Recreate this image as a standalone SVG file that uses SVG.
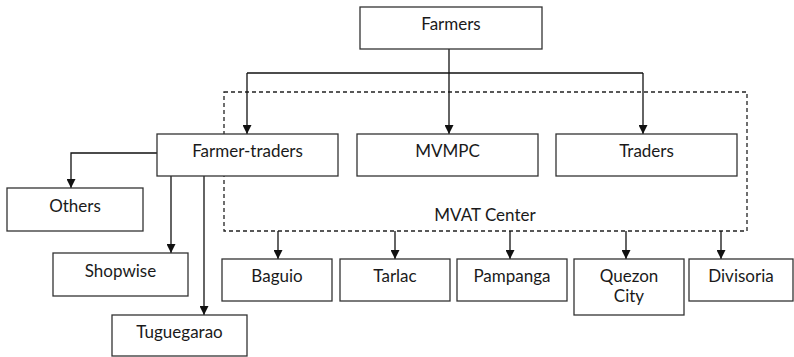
<svg xmlns="http://www.w3.org/2000/svg" width="794" height="357" viewBox="0 0 794 357">
<defs>
<style>
.box{fill:#fff;stroke:#333;stroke-width:1.3}
.t{font-family:Lato,"Open Sans",sans-serif;font-size:17px;fill:#1a1a1a;text-anchor:middle}
.c{fill:none;stroke:#111;stroke-width:1.3}
.d{fill:none;stroke:#222;stroke-width:1.3;stroke-dasharray:4 3}
</style>
<marker id="a" viewBox="0 0 10 10" refX="10" refY="5" markerWidth="9" markerHeight="9" markerUnits="userSpaceOnUse" orient="auto">
<path d="M0,0 L10,5 L0,10 z" fill="#111"/>
</marker>
</defs>
<g id="mvat-center">
<rect class="d" x="224" y="92" width="523" height="139"/>
<text class="t" x="485" y="221">MVAT Center</text>
</g>
<g id="connectors">
<path class="c" d="M449,49 V134" marker-end="url(#a)"/>
<path class="c" d="M247,73 H643" />
<path class="c" d="M247,73 V134" marker-end="url(#a)"/>
<path class="c" d="M643,73 V134" marker-end="url(#a)"/>
<path class="c" d="M157,153 H71 V188" marker-end="url(#a)"/>
<path class="c" d="M171,176 V253" marker-end="url(#a)"/>
<path class="c" d="M204,176 V315" marker-end="url(#a)"/>
<path class="c" d="M278,231 V259" marker-end="url(#a)"/>
<path class="c" d="M395,231 V259" marker-end="url(#a)"/>
<path class="c" d="M510,231 V259" marker-end="url(#a)"/>
<path class="c" d="M626,231 V259" marker-end="url(#a)"/>
<path class="c" d="M721,231 V259" marker-end="url(#a)"/>
</g>
<g id="farmers"><rect class="box" x="360" y="7" width="182" height="42"/><text class="t" x="451" y="30">Farmers</text></g>
<g id="farmer-traders"><rect class="box" x="157" y="134" width="181" height="42"/><text class="t" x="247.5" y="157">Farmer-traders</text></g>
<g id="mvmpc"><rect class="box" x="357" y="134" width="181" height="42"/><text class="t" x="447.5" y="157">MVMPC</text></g>
<g id="traders"><rect class="box" x="556" y="134" width="181" height="42"/><text class="t" x="646.5" y="157">Traders</text></g>
<g id="others"><rect class="box" x="7" y="188" width="136" height="43"/><text class="t" x="75" y="212">Others</text></g>
<g id="shopwise"><rect class="box" x="53" y="253" width="135" height="43"/><text class="t" x="120.5" y="277">Shopwise</text></g>
<g id="tuguegarao"><rect class="box" x="112" y="315" width="135" height="41"/><text class="t" x="179.5" y="338">Tuguegarao</text></g>
<g id="baguio"><rect class="box" x="222" y="259" width="110" height="42"/><text class="t" x="277" y="282">Baguio</text></g>
<g id="tarlac"><rect class="box" x="340" y="259" width="110" height="42"/><text class="t" x="395" y="282">Tarlac</text></g>
<g id="pampanga"><rect class="box" x="457" y="259" width="110" height="42"/><text class="t" x="512" y="282">Pampanga</text></g>
<g id="quezon-city"><rect class="box" x="574" y="259" width="110" height="56"/><text class="t" x="629" y="282">Quezon</text><text class="t" x="629" y="302">City</text></g>
<g id="divisoria"><rect class="box" x="689" y="259" width="104" height="42"/><text class="t" x="741" y="282">Divisoria</text></g>
</svg>
